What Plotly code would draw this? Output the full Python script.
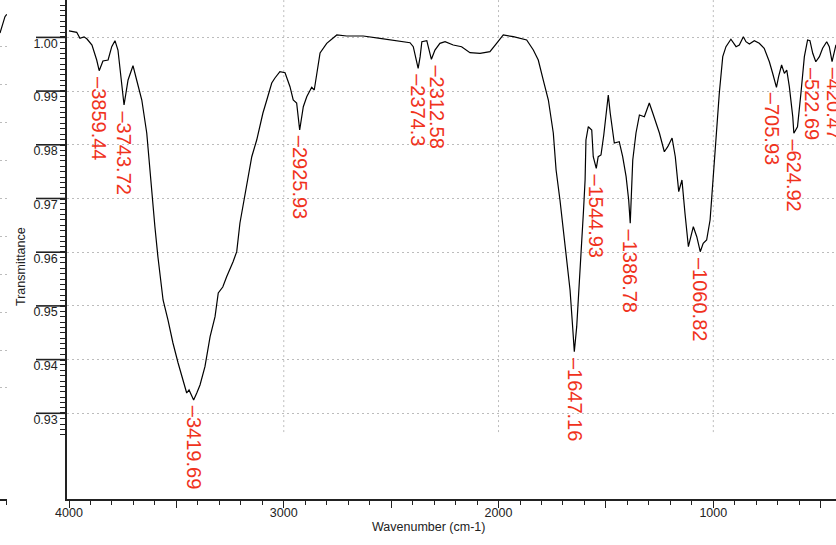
import numpy as np
import plotly.graph_objects as go

# ---------------- data ----------------
wavenumber = [4000, 3964, 3949, 3930, 3916, 3893, 3871, 3859.44, 3842, 3818,
              3801, 3786, 3772, 3755, 3743.72, 3725, 3702, 3685, 3661, 3638,
              3615, 3600, 3586, 3562, 3539, 3516, 3492, 3469, 3452, 3441,
              3432, 3419.69, 3405, 3390, 3367, 3343, 3320, 3305, 3284, 3266,
              3236, 3219, 3204, 3180, 3149, 3126, 3097, 3079, 3056, 3041,
              3018, 2994, 2971, 2956, 2940, 2925.93, 2909, 2893, 2870, 2858,
              2847, 2831, 2800, 2753, 2707, 2630, 2552, 2474, 2412, 2397,
              2374.3, 2365, 2357, 2334, 2322, 2312.58, 2296, 2273, 2249, 2211,
              2172, 2133, 2086, 2040, 2009, 1978, 1931, 1869, 1838, 1815,
              1792, 1768, 1745, 1732, 1714, 1698, 1683, 1667, 1655, 1647.16,
              1636, 1625, 1613, 1605, 1597, 1593, 1582, 1566, 1559, 1544.93,
              1536, 1523, 1510, 1500, 1489, 1480, 1461, 1438, 1422, 1406,
              1394, 1386.78, 1375, 1360, 1344, 1321, 1298, 1282, 1267, 1251,
              1228, 1212, 1192, 1177, 1161, 1146, 1132, 1116, 1093, 1077,
              1060.82, 1047, 1031, 1015, 1007, 987, 972, 956, 941, 918,
              894, 879, 860, 848, 832, 809, 786, 763, 739, 724,
              705.93, 696, 682, 669, 658, 646, 630, 624.92, 608, 592,
              576, 561, 550, 537, 522.69, 506, 491, 472, 460, 447,
              438, 429, 420]
transmittance = [1.0012, 1.00095, 0.99983, 1.0001, 0.9997, 0.99858, 0.99579, 0.9938, 0.99561, 0.99579,
                 0.99827, 0.99939, 0.99765, 0.99151, 0.98741, 0.99207, 0.99473, 0.99207, 0.98834, 0.9822,
                 0.97102, 0.96475, 0.95916, 0.9511, 0.94737, 0.94309, 0.93937, 0.93588, 0.93378, 0.93434,
                 0.9336, 0.93248, 0.93378, 0.93527, 0.93868, 0.94426, 0.94799, 0.9524, 0.95352, 0.95544,
                 0.95823, 0.9601, 0.96544, 0.97102, 0.97778, 0.98089, 0.98592, 0.98834, 0.99151, 0.99244,
                 0.99361, 0.99343, 0.99082, 0.98834, 0.98778, 0.98276, 0.98709, 0.98896, 0.99071, 0.9902,
                 0.99337, 0.9971, 0.9989, 1.00045, 1.00026, 1.00026, 0.99983, 0.99939, 0.99901, 0.99827,
                 0.99425, 0.99641, 0.9992, 0.99939, 0.99765, 0.99592, 0.99765, 0.9989, 0.9992, 0.99858,
                 0.99827, 0.99715, 0.99704, 0.99734, 0.9989, 1.00045, 1.00013, 0.99952, 0.99765, 0.99579,
                 0.99207, 0.98834, 0.9822, 0.97531, 0.96972, 0.96413, 0.95855, 0.95296, 0.94613, 0.94147,
                 0.94613, 0.95296, 0.96102, 0.9673, 0.97345, 0.98089, 0.98337, 0.98276, 0.97778, 0.97562,
                 0.97778, 0.9781, 0.98183, 0.98592, 0.98927, 0.98592, 0.98034, 0.98058, 0.97778, 0.97406,
                 0.96972, 0.96538, 0.97717, 0.9822, 0.98555, 0.98523, 0.98778, 0.98592, 0.98406, 0.9822,
                 0.97871, 0.97965, 0.98127, 0.97778, 0.97127, 0.97345, 0.9673, 0.96102, 0.96475, 0.96289,
                 0.96009, 0.96166, 0.96227, 0.966, 0.97034, 0.9822, 0.98965, 0.99641, 0.99827, 0.99965,
                 0.99827, 0.99858, 1.00013, 0.9992, 0.99877, 0.99939, 0.9989, 0.99797, 0.99547, 0.99337,
                 0.99071, 0.99268, 0.99486, 0.99331, 0.99393, 0.99082, 0.98523, 0.98214, 0.98337, 0.98959,
                 0.99641, 0.99952, 0.99939, 0.99704, 0.99547, 0.99641, 0.99797, 0.9992, 0.99827, 0.99547,
                 0.9973, 0.9986, 0.9975]

peak_labels = ["3859.44", "3743.72", "3419.69", "2925.93", "2374.3", "2312.58",
               "1647.16", "1544.93", "1386.78", "1060.82", "705.93", "624.92",
               "522.69", "420.47"]
peak_wavenumber = [3859.44, 3743.72, 3419.69, 2925.93, 2374.3, 2312.58,
                   1647.16, 1544.93, 1386.78, 1060.82, 705.93, 624.92,
                   522.69, 438]
peak_transmittance = [0.9938, 0.98741, 0.93248, 0.98276, 0.99425, 0.99592,
                      0.94147, 0.97562, 0.96538, 0.96009, 0.99071, 0.98214,
                      0.99547, 0.99547]

y_major = [0.93, 0.94, 0.95, 0.96, 0.97, 0.98, 0.99, 1.00]
y_major_text = ["0.93", "0.94", "0.95", "0.96", "0.97", "0.98", "0.99", "1.00"]
x_major = [4000, 3500, 3000, 2500, 2000, 1500, 1000, 500]
x_major_text = ["4000", "", "3000", "", "2000", "", "1000", ""]
grid_wavenumbers = [3000, 2000, 1000]

# fragment of the neighbouring chart visible at the far left edge
neighbor_x = [0, 0.38, 0.71, 0.96]
neighbor_y = [9.37, 9.58, 9.80, 9.86]
neighbor_grid = [0, 1, 2, 3, 4, 5, 6, 7, 8, 9]

# ---------------- styling ----------------
W, H = 836, 545
LEFT_PX = 67
MAJOR_TICK_PX = 31
Y_RANGE = [0.91404, 1.006965]
FONT = "Liberation Sans, Arial, Helvetica, sans-serif"
INK = "#222222"
GRID = "#bcbcbc"
RED = "#f0321c"
label_xshift = {"2312.58": 6, "705.93": -5, "522.69": -4}

fig = go.Figure()
fig.add_trace(go.Scatter(x=wavenumber, y=transmittance, mode="lines",
                         line=dict(color="black", width=1.2),
                         xaxis="x", yaxis="y", showlegend=False, hoverinfo="skip"))
fig.add_trace(go.Scatter(x=neighbor_x, y=neighbor_y, mode="lines",
                         line=dict(color="black", width=1.2),
                         xaxis="x2", yaxis="y2", showlegend=False, hoverinfo="skip"))

minor_y = np.round(np.arange(0.926, 1.0066, 0.001), 3).tolist()

fig.update_layout(
    width=W, height=H,
    margin=dict(l=0, r=0, t=0, b=46, pad=0),
    paper_bgcolor="white", plot_bgcolor="white",
    font=dict(family=FONT, color=INK, size=12.5),
    showlegend=False,
    xaxis=dict(domain=[LEFT_PX / W, 1], range=[4009.3, 428.7], anchor="y",
               tickmode="array", tickvals=x_major, ticktext=x_major_text,
               ticks="outside", ticklen=7, tickwidth=1, tickcolor=INK,
               showline=True, linecolor=INK, linewidth=1.5,
               showgrid=False, zeroline=False, automargin=False,
               ticklabelstandoff=-6,
               tickfont=dict(size=12.5, color=INK, family=FONT),
               minor=dict(tickmode="linear", tick0=0, dtick=100, ticks="outside",
                          ticklen=4, tickwidth=1, tickcolor=INK, showgrid=False)),
    yaxis=dict(domain=[0, 1], range=Y_RANGE, anchor="x",
               tickmode="array", tickvals=y_major, ticktext=y_major_text,
               ticks="outside", ticklen=5, tickwidth=1.5, tickcolor=INK,
               showline=True, linecolor=INK, linewidth=1.5,
               showgrid=True, gridcolor=GRID, gridwidth=1, griddash="2px,3px",
               zeroline=False, automargin=False,
               ticklabelshift=6,
               tickfont=dict(size=12.5, color=INK, family=FONT),
               minor=dict(tickmode="array", tickvals=minor_y, ticks="outside",
                          ticklen=5, tickwidth=1, tickcolor=INK, showgrid=False)),
    xaxis2=dict(domain=[0, 7 / W], range=[0, 1], anchor="y2",
                tickmode="array", tickvals=[0.86], ticktext=[""],
                ticks="outside", ticklen=4, tickcolor=INK,
                showline=True, linecolor=INK, linewidth=1.5,
                showgrid=False, zeroline=False, automargin=False),
    yaxis2=dict(domain=[0, 1], range=[-2.93, 10.24], anchor="x2",
                tickmode="array", tickvals=neighbor_grid, showticklabels=False,
                ticks="", showline=False, zeroline=False, automargin=False,
                showgrid=True, gridcolor=GRID, gridwidth=1, griddash="2px,3px"),
)

shapes = []
# vertical dotted grid lines (stop short of the x axis, as in the reference)
for g in grid_wavenumbers:
    shapes.append(dict(type="line", xref="x", yref="y", x0=g, x1=g,
                       y0=0.9265, y1=Y_RANGE[1], layer="below",
                       line=dict(color=GRID, width=1, dash="2px,3px")))
# long major tick marks of the y axis (drawn in paper space so they are not clipped)
for v in y_major:
    yp = (v - Y_RANGE[0]) / (Y_RANGE[1] - Y_RANGE[0])
    shapes.append(dict(type="line", xref="paper", yref="paper",
                       x0=(LEFT_PX - MAJOR_TICK_PX) / W, x1=LEFT_PX / W, y0=yp, y1=yp,
                       layer="above", line=dict(color=INK, width=1.6)))
fig.update_layout(shapes=shapes)

annotations = []
for lbl, w, t in zip(peak_labels, peak_wavenumber, peak_transmittance):
    annotations.append(dict(x=w, y=t, xref="x", yref="y", text="\u2013" + lbl,
                            textangle=90, showarrow=False, xanchor="center",
                            yanchor="top", yshift=-4, xshift=label_xshift.get(lbl, 0),
                            font=dict(size=20, color=RED, family=FONT)))
annotations.append(dict(x=428 / W, y=0, xref="paper", yref="paper",
                        text="Wavenumber (cm-1)", showarrow=False, xanchor="center",
                        yanchor="middle", yshift=-28,
                        font=dict(size=12.5, color=INK, family=FONT)))
annotations.append(dict(x=21 / W, y=(499 - 267) / 499, xref="paper", yref="paper",
                        text="Transmittance", showarrow=False, textangle=-90,
                        xanchor="center", yanchor="middle",
                        font=dict(size=12.5, color=INK, family=FONT)))
fig.update_layout(annotations=annotations)

fig.write_html("out.html", config={"displayModeBar": False},
               post_script="document.body.style.margin='0';document.body.style.overflow='hidden';")
